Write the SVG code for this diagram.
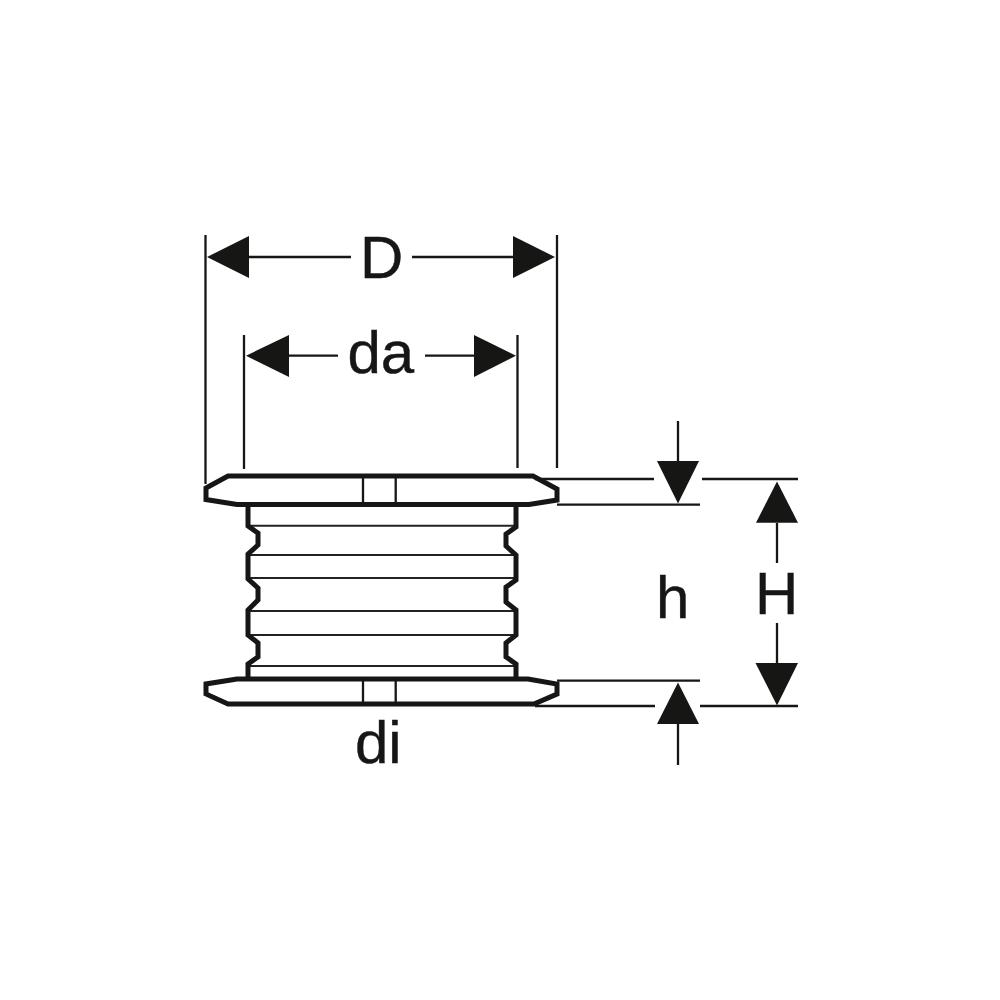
<svg xmlns="http://www.w3.org/2000/svg" width="1000" height="1000" viewBox="0 0 1000 1000">
<style>
.o{fill:none;stroke:#161615;stroke-width:5;stroke-linejoin:miter}
.t{fill:none;stroke:#222;stroke-width:2}
.d{fill:none;stroke:#161615;stroke-width:2.3}
.a{fill:#161615}
text{font-family:"Liberation Sans",Arial,sans-serif;font-size:60px;fill:#161615;stroke:#161615;stroke-width:.4}
</style>
<rect width="1000" height="1000" fill="#fff"/>
<g id="body">
<path class="t" d="M248 525.7H516M248 555H516M248 578H516M248 611H516M248 635H516M248 666H516"/>
<path class="o" d="M248 504V526L258 533V545L248 554V579L258 588V600L248 610V635L258 643V657L248 664V679"/>
<path class="o" d="M516 504V527L506 534V546L516 555V580L506 587V602L516 610V635L506 643V657L516 664V679"/>
</g>
<g id="top-flange">
<path class="o" d="M228 476H533L557 489V500L529 504.5H237L206 499.5V488Z"/>
<path class="d" d="M363 476V504M395.7 476V504"/>
</g>
<g id="bottom-flange">
<path class="o" d="M237 679H528L557 684V694L534 704H228L206 694V684Z"/>
<path class="d" d="M363 679V704M395.7 679V704"/>
</g>
<g id="connectors">
<path class="d" d="M205.5 235V484M557 235V468M244 335V469M517.5 335V468"/>
<path class="d" d="M249 257H351M412 257H513M289 355.7H338M425 355.7H475"/>
<path class="d" d="M535 479H654M702 479H798M557 504.7H700M557 680.7H700M535 706H655M700 706H798"/>
<path class="d" d="M678 421V461M678 724V765M777 523V563M777 623V663"/>
<path class="a" d="M207 257L249 236V278Z"/>
<path class="a" d="M555 257L513 236V278Z"/>
<path class="a" d="M246 355.7L289 335V377Z"/>
<path class="a" d="M516 355.7L474 335V377Z"/>
<path class="a" d="M678 503.5L657 461H699Z"/>
<path class="a" d="M678 682.5L657 724H699Z"/>
<path class="a" d="M777 481.5L756 522.7H798Z"/>
<path class="a" d="M777 705.5L755.5 663H798Z"/>
</g>
<g id="labels">
<text x="360" y="278">D</text>
<text x="347.5" y="373">da</text>
<text x="656" y="618">h</text>
<text x="755" y="614">H</text>
<text x="355" y="763">di</text>
</g>
</svg>
